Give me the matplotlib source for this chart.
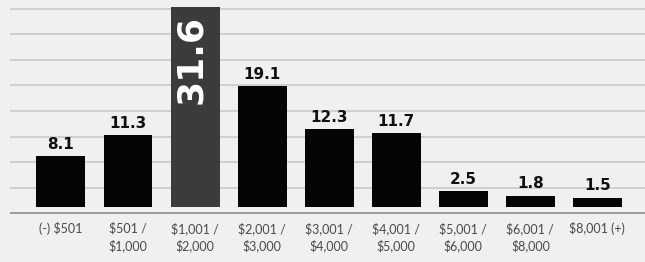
import matplotlib

matplotlib.use("Agg")
import matplotlib.pyplot as plt
import numpy as np

# ── Data ──────────────────────────────────────────────────────────────────────
categories = [
    "(-) $501", "$501 /\n$1,000", "$1,001 /\n$2,000", "$2,001 /\n$3,000",
    "$3,001 /\n$4,000", "$4,001 /\n$5,000", "$5,001 /\n$6,000",
    "$6,001 /\n$8,000", "$8,001 (+)",
]
values = [8.1, 11.3, 31.6, 19.1, 12.3, 11.7, 2.5, 1.8, 1.5]
highlight = 2

# ── Colours ───────────────────────────────────────────────────────────────────
BG = "#f0f0f0"
GRID = "#c6c6c6"
BASE = "#9a9a9a"
BAR = "#050505"
HIGH = "#3b3b3b"
TICK = "#4a4a4a"

fig = plt.figure(figsize=(6.45, 2.62), dpi=100)
fig.patch.set_facecolor(BG)
ax = fig.add_axes([10 / 645, 48 / 262, 635 / 645, 214 / 262])
ax.set_facecolor(BG)

x = np.arange(len(values))
colors = [HIGH if i == highlight else BAR for i in x]
ax.bar(x, values, width=0.73, color=colors, zorder=3)

ax.set_xlim(-0.76, 8.71)
ax.set_ylim(-1.1, 32.7)

# horizontal guide lines
for g in np.arange(3.0, 32.0, 4.05):
    ax.axhline(g, color=GRID, linewidth=1.1, zorder=1)
ax.axhline(-1.0, color=BASE, linewidth=2.0, zorder=2)

for i, v in enumerate(values):
    if i == highlight:
        ax.text(i - 0.06, v - 1.3, f"{v:.1f}", rotation=90, ha="center",
                va="top", color="white", fontsize=26, fontweight="heavy",
                zorder=4)
    else:
        ax.annotate(f"{v:.1f}", (i, v), xytext=(0, 3),
                    textcoords="offset points", ha="center", va="bottom",
                    fontsize=11, fontweight="heavy", color="#111111")

ax.set_xticks(x)
ax.set_xticklabels(categories, fontsize=9, color=TICK, family="Lato",
                   linespacing=1.4, va="top")
ax.tick_params(axis="x", length=0, pad=6)
ax.set_yticks([])
for s in ax.spines.values():
    s.set_visible(False)

fig.savefig("out.png", dpi=100, facecolor=BG)
